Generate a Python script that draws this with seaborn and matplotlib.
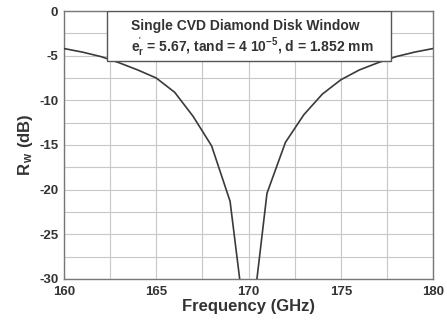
import matplotlib
matplotlib.use("Agg")
import matplotlib.pyplot as plt
import seaborn as sns
import pandas as pd
import numpy as np

freq = [160, 161, 162, 163, 164, 165, 166, 167, 168, 169, 170,
        171, 172, 173, 174, 175, 176, 177, 178, 179, 180]
rw_db = [-4.2, -4.6, -5.1, -5.8, -6.6, -7.5, -9.1, -11.8, -15.1, -21.3, -38.0,
         -20.4, -14.7, -11.6, -9.3, -7.7, -6.6, -5.8, -5.1, -4.6, -4.2]
x_ticks = [160, 165, 170, 175, 180]
y_ticks = [0, -5, -10, -15, -20, -25, -30]
title_line1 = "Single CVD Diamond Disk Window"
title_line2 = r"e$_r^{'}$ = 5.67, tand = 4 10$^{-5}$, d = 1.852 mm"

sns.set_style("white")
plt.rcParams['font.family'] = ['Liberation Sans', 'DejaVu Sans']
plt.rcParams['font.weight'] = 'bold'
plt.rcParams['axes.unicode_minus'] = False
plt.rcParams['mathtext.fontset'] = 'custom'
plt.rcParams['mathtext.rm'] = 'Liberation Sans:bold'
plt.rcParams['mathtext.it'] = 'Liberation Sans:bold'
plt.rcParams['mathtext.bf'] = 'Liberation Sans:bold'
plt.rcParams['mathtext.default'] = 'rm'

df = pd.DataFrame({"Frequency": freq, "Rw": rw_db})

fig = plt.figure(figsize=(4.47, 3.24), dpi=100)
ax = fig.add_axes([0.143, 0.139, 0.826, 0.827])

sns.lineplot(data=df, x="Frequency", y="Rw", ax=ax, color="#3a3a3a", linewidth=1.2, zorder=3)

ax.set_xlim(160, 180)
ax.set_ylim(-30, 0)
ax.set_xticks(x_ticks)
ax.set_yticks(y_ticks)
ax.set_xticks(np.arange(160, 180.1, 2.5), minor=True)
ax.set_yticks(np.arange(-30, 0.1, 2.5), minor=True)
ax.grid(True, which="both", color="#c8c8c8", linewidth=0.8, zorder=0)
ax.set_axisbelow(True)
ax.tick_params(axis="both", which="major", labelsize=9.5, direction="in", length=3,
               color="#666666")
ax.tick_params(axis="x", which="major", pad=5)
ax.tick_params(axis="y", which="major", pad=4)
ax.tick_params(axis="both", which="minor", direction="in", length=2, color="#666666")
for lbl in ax.get_xticklabels() + ax.get_yticklabels():
    lbl.set_fontweight("bold")
    lbl.set_color("#333333")
for s in ax.spines.values():
    s.set_color("#777777")
    s.set_linewidth(1.0)

ax.set_xlabel("Frequency (GHz)", fontsize=12, fontweight="bold", color="#333333", labelpad=1)
ax.set_ylabel(r"R$_{\,w}$ (dB)", fontsize=12, fontweight="bold", color="#333333", labelpad=3)

box = plt.Rectangle((0.116, 0.813), 0.77, 0.187, transform=ax.transAxes,
                    facecolor="white", edgecolor="#555555", linewidth=1.0, zorder=5)
ax.add_patch(box)
ax.text(0.49, 0.945, title_line1, transform=ax.transAxes, ha="center", va="center",
        fontsize=10, fontweight="bold", color="#333333", zorder=6)
ax.text(0.51, 0.868, title_line2, transform=ax.transAxes, ha="center", va="center",
        fontsize=10, fontweight="bold", color="#333333", zorder=6)

fig.savefig("out.png", dpi=100)
